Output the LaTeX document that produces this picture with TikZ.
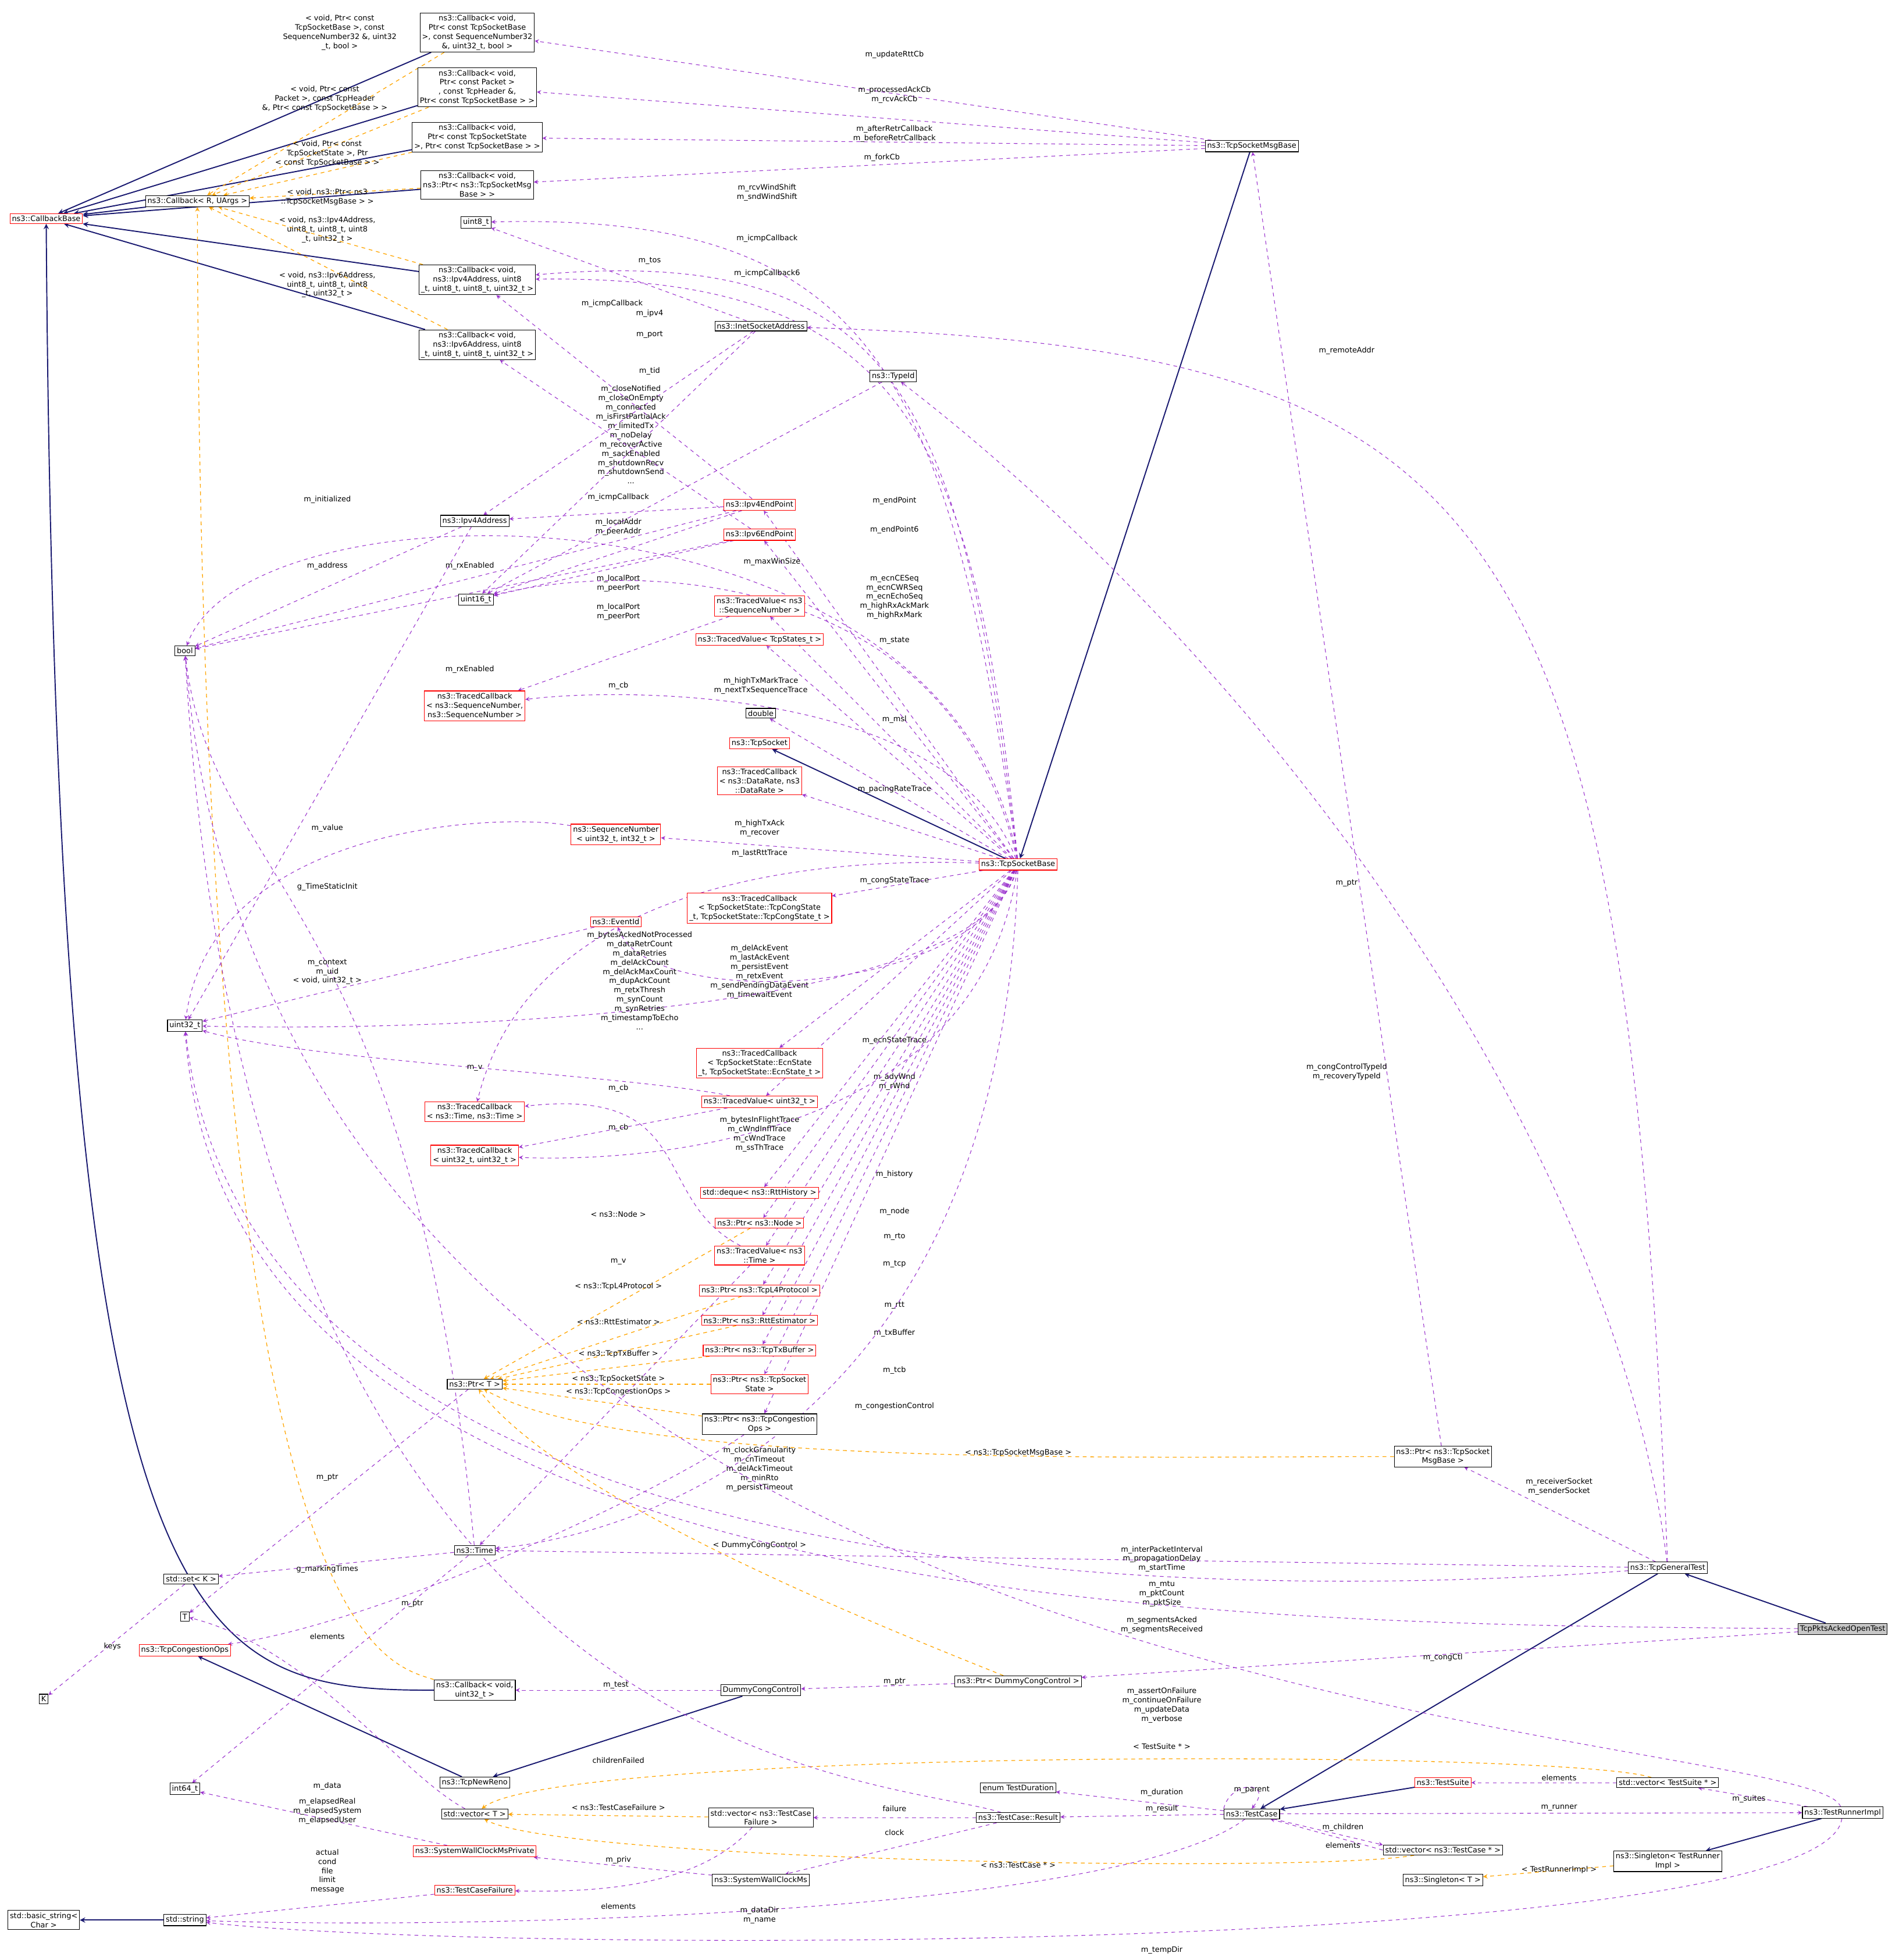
\documentclass[tikz,border=0pt]{standalone}
\usepackage{fontspec}
\setmainfont{DejaVu Sans}
\definecolor{mypurple}{HTML}{9A32CD}
\definecolor{myorange}{HTML}{FFA500}
\definecolor{mynavy}{HTML}{191970}
\usepackage{tikz}
\usetikzlibrary{arrows,positioning,backgrounds}

\begin{document}
\begin{tikzpicture}[
  x=1pt, y=-1pt,
  font=\fontsize{6}{7.4}\selectfont,
  cls/.style={draw, fill=white, inner sep=1.6pt, align=center, line width=0.5pt},
  redcls/.style={cls, draw=red},
  inh/.style={draw=mynavy, line width=0.9pt, -stealth},
  dep/.style={draw=mypurple, dashed, line width=0.5pt, -stealth},
  tmpl/.style={draw=myorange, dashed, line width=0.6pt, -stealth},
  lbl/.style={align=center, inner sep=0pt}
]
\useasboundingbox (0,0) rectangle (1520,1569);

% classes
\node[redcls] (cbb) at (37,175) {ns3::CallbackBase};
\node[cls] (cbru) at (158,161) {ns3::Callback< R, UArgs >};
\node[cls] (cbrtt) at (382,26) {ns3::Callback< void,\\ Ptr< const TcpSocketBase\\ >, const SequenceNumber32\\ \&, uint32\_t, bool >};
\node[cls] (cback) at (382,70) {ns3::Callback< void,\\ Ptr< const Packet >\\ , const TcpHeader \&,\\ Ptr< const TcpSocketBase > >};
\node[cls] (cbretr) at (382,110) {ns3::Callback< void,\\ Ptr< const TcpSocketState\\ >, Ptr< const TcpSocketBase > >};
\node[cls] (cbfork) at (382,148) {ns3::Callback< void,\\ ns3::Ptr< ns3::TcpSocketMsg\\ Base > >};
\node[cls] (u8) at (381,178) {uint8\_t};
\node[cls] (cbip4) at (382,224) {ns3::Callback< void,\\ ns3::Ipv4Address, uint8\\ \_t, uint8\_t, uint8\_t, uint32\_t >};
\node[cls] (cbip6) at (382,276) {ns3::Callback< void,\\ ns3::Ipv6Address, uint8\\ \_t, uint8\_t, uint8\_t, uint32\_t >};
\node[cls] (msgbase) at (1002,117) {ns3::TcpSocketMsgBase};
\node[cls] (inet) at (609,261) {ns3::InetSocketAddress};
\node[cls] (typeid) at (715,301) {ns3::TypeId};
\node[cls] (ip4addr) at (380,417) {ns3::Ipv4Address};
\node[cls] (bool) at (148,521) {bool};
\node[cls] (u16) at (381,480) {uint16\_t};
\node[redcls] (ep4) at (608,404) {ns3::Ipv4EndPoint};
\node[redcls] (ep6) at (608,428) {ns3::Ipv6EndPoint};
\node[redcls] (tvseq) at (608,485) {ns3::TracedValue< ns3\\ ::SequenceNumber >};
\node[redcls] (tvstate) at (608,512) {ns3::TracedValue< TcpStates\_t >};
\node[redcls] (tcseq) at (380,565) {ns3::TracedCallback\\ < ns3::SequenceNumber,\\ ns3::SequenceNumber >};
\node[cls] (dbl) at (609,571) {double};
\node[redcls] (tcpsock) at (608,595) {ns3::TcpSocket};
\node[redcls] (tcrate) at (608,625) {ns3::TracedCallback\\ < ns3::DataRate, ns3\\ ::DataRate >};
\node[redcls] (seqnum) at (493,668) {ns3::SequenceNumber\\ < uint32\_t, int32\_t >};
\node[redcls] (tsb) at (815,692) {ns3::TcpSocketBase};
\node[redcls] (tccong) at (608,727) {ns3::TracedCallback\\ < TcpSocketState::TcpCongState\\ \_t, TcpSocketState::TcpCongState\_t >};
\node[redcls] (evid) at (493,738) {ns3::EventId};
\node[cls] (u32) at (148,821) {uint32\_t};
\node[redcls] (tcecn) at (608,851) {ns3::TracedCallback\\ < TcpSocketState::EcnState\\ \_t, TcpSocketState::EcnState\_t >};
\node[redcls] (tvu32) at (608,882) {ns3::TracedValue< uint32\_t >};
\node[redcls] (tctime) at (380,890) {ns3::TracedCallback\\ < ns3::Time, ns3::Time >};
\node[redcls] (tcu32) at (380,925) {ns3::TracedCallback\\ < uint32\_t, uint32\_t >};
\node[redcls] (deque) at (608,955) {std::deque< ns3::RttHistory >};
\node[redcls] (pnode) at (608,979) {ns3::Ptr< ns3::Node >};
\node[redcls] (tvtime) at (608,1005) {ns3::TracedValue< ns3\\ ::Time >};
\node[redcls] (pl4) at (608,1033) {ns3::Ptr< ns3::TcpL4Protocol >};
\node[redcls] (prtt) at (608,1057) {ns3::Ptr< ns3::RttEstimator >};
\node[redcls] (ptx) at (608,1081) {ns3::Ptr< ns3::TcpTxBuffer >};
\node[redcls] (ptcb) at (608,1108) {ns3::Ptr< ns3::TcpSocket\\ State >};
\node[cls] (pcong) at (608,1140) {ns3::Ptr< ns3::TcpCongestion\\ Ops >};
\node[cls] (ptr) at (380,1108) {ns3::Ptr< T >};
\node[cls] (pmsg) at (1155,1166) {ns3::Ptr< ns3::TcpSocket\\ MsgBase >};
\node[cls] (time) at (380,1241) {ns3::Time};
\node[cls] (gentest) at (1335,1255) {ns3::TcpGeneralTest};
\node[cls] (setk) at (153,1264) {std::set< K >};
\node[cls] (tT) at (148,1294) {T};
\node[cls, fill=gray!45] (pktstest) at (1475,1304) {TcpPktsAckedOpenTest};
\node[redcls] (congops) at (148,1321) {ns3::TcpCongestionOps};
\node[cls] (kK) at (35,1360) {K};
\node[cls] (cbu32) at (380,1353) {ns3::Callback< void,\\ uint32\_t >};
\node[cls] (dummy) at (609,1353) {DummyCongControl};
\node[cls] (pdummy) at (815,1346) {ns3::Ptr< DummyCongControl >};
\node[cls] (newreno) at (380,1427) {ns3::TcpNewReno};
\node[cls] (tdur) at (815,1431) {enum TestDuration};
\node[redcls] (tsuite) at (1155,1427) {ns3::TestSuite};
\node[cls] (vsuite) at (1335,1427) {std::vector< TestSuite * >};
\node[cls] (i64) at (148,1432) {int64\_t};
\node[cls] (vecT) at (380,1452) {std::vector< T >};
\node[cls] (vfail) at (609,1455) {std::vector< ns3::TestCase\\ Failure >};
\node[cls] (result) at (815,1455) {ns3::TestCase::Result};
\node[cls] (testcase) at (1002,1452) {ns3::TestCase};
\node[cls] (runner) at (1475,1451) {ns3::TestRunnerImpl};
\node[cls] (vcase) at (1155,1481) {std::vector< ns3::TestCase * >};
\node[cls] (sglrun) at (1335,1490) {ns3::Singleton< TestRunner\\ Impl >};
\node[redcls] (swcpriv) at (380,1482) {ns3::SystemWallClockMsPrivate};
\node[cls] (sglT) at (1155,1505) {ns3::Singleton< T >};
\node[cls] (swc) at (609,1505) {ns3::SystemWallClockMs};
\node[redcls] (tcfail) at (380,1513) {ns3::TestCaseFailure};
\node[cls] (bstr) at (35,1537) {std::basic\_string<\\ Char >};
\node[cls] (str) at (148,1537) {std::string};

\begin{scope}[on background layer]
% inheritance
\foreach \n in {cbru,cbrtt,cback,cbretr,cbfork,cbip4,cbip6}
  \draw[inh] (\n) -- (cbb);
\draw[inh] (cbu32.west) .. controls (150,1353) and (45,1320) .. (cbb.south);
\draw[inh] (msgbase) -- (tsb);
\draw[inh] (tsb) -- (tcpsock);
\draw[inh] (pktstest) -- (gentest);
\draw[inh] (gentest) -- (testcase);
\draw[inh] (tsuite) -- (testcase);
\draw[inh] (newreno) -- (congops);
\draw[inh] (dummy) -- (newreno);
\draw[inh] (runner) -- (sglrun);
\draw[inh] (str) -- (bstr);

% templates
\draw[tmpl] (cbrtt) -- (cbru) node[lbl, at={(272,26)}] {< void, Ptr< const\\ TcpSocketBase >, const\\ SequenceNumber32 \&, uint32\\ \_t, bool >};
\draw[tmpl] (cback) -- (cbru) node[lbl, at={(260,79)}] {< void, Ptr< const\\ Packet >, const TcpHeader\\ \&, Ptr< const TcpSocketBase > >};
\draw[tmpl] (cbretr) -- (cbru) node[lbl, at={(262,123)}] {< void, Ptr< const\\ TcpSocketState >, Ptr\\ < const TcpSocketBase > >};
\draw[tmpl] (cbfork) -- (cbru) node[lbl, at={(262,158)}] {< void, ns3::Ptr< ns3\\ ::TcpSocketMsgBase > >};
\draw[tmpl] (cbip4) -- (cbru) node[lbl, at={(262,184)}] {< void, ns3::Ipv4Address,\\ uint8\_t, uint8\_t, uint8\\ \_t, uint32\_t >};
\draw[tmpl] (cbip6) -- (cbru) node[lbl, at={(262,228)}] {< void, ns3::Ipv6Address,\\ uint8\_t, uint8\_t, uint8\\ \_t, uint32\_t >};
\draw[tmpl] (cbu32.north west) .. controls (300,1330) and (160,1300) .. (cbru.south);
\draw[tmpl] (pnode) -- (ptr) node[lbl, at={(495,972)}] {< ns3::Node >};
\draw[tmpl] (pl4) -- (ptr) node[lbl, at={(495,1030)}] {< ns3::TcpL4Protocol >};
\draw[tmpl] (prtt) -- (ptr) node[lbl, at={(495,1058)}] {< ns3::RttEstimator >};
\draw[tmpl] (ptx) -- (ptr) node[lbl, at={(495,1084)}] {< ns3::TcpTxBuffer >};
\draw[tmpl] (ptcb) -- (ptr) node[lbl, at={(495,1104)}] {< ns3::TcpSocketState >};
\draw[tmpl] (pcong) -- (ptr) node[lbl, at={(495,1114)}] {< ns3::TcpCongestionOps >};
\draw[tmpl] (pmsg.west) .. controls (900,1166) and (500,1175) .. (ptr) node[lbl, at={(815,1163)}] {< ns3::TcpSocketMsgBase >};
\draw[tmpl] (pdummy) .. controls (700,1300) and (450,1200) .. (ptr) node[lbl, at={(608,1237)}] {< DummyCongControl >};
\draw[tmpl] (vsuite) .. controls (1250,1400) and (450,1400) .. (vecT) node[lbl, at={(930,1398)}] {< TestSuite * >};
\draw[tmpl] (vfail) -- (vecT) node[lbl, at={(495,1447)}] {< ns3::TestCaseFailure >};
\draw[tmpl] (vcase) .. controls (1050,1500) and (450,1490) .. (vecT) node[lbl, at={(815,1493)}] {< ns3::TestCase * >};
\draw[tmpl] (sglrun) -- (sglT) node[lbl, at={(1248,1497)}] {< TestRunnerImpl >};

% members
\draw[dep] (msgbase) -- (cbrtt) node[lbl, at={(716,44)}] {m\_updateRttCb};
\draw[dep] (msgbase) -- (cback) node[lbl, at={(716,76)}] {m\_processedAckCb\\ m\_rcvAckCb};
\draw[dep] (msgbase) -- (cbretr) node[lbl, at={(716,107)}] {m\_afterRetrCallback\\ m\_beforeRetrCallback};
\draw[dep] (msgbase) -- (cbfork) node[lbl, at={(706,126)}] {m\_forkCb};
\draw[dep] (tsb) .. controls (760,300) and (700,170) .. (u8) node[lbl, at={(614,154)}] {m\_rcvWindShift\\ m\_sndWindShift};
\draw[dep] (tsb) .. controls (770,320) and (720,195) .. (cbip4) node[lbl, at={(614,191)}] {m\_icmpCallback};
\draw[dep] (tsb) .. controls (780,340) and (720,220) .. (cbip4) node[lbl, at={(614,219)}] {m\_icmpCallback6};
\draw[dep] (inet) -- (u8) node[lbl, at={(520,209)}] {m\_tos};
\draw[dep] (ep4) -- (cbip4) node[lbl, at={(490,243)}] {m\_icmpCallback};
\draw[dep] (inet) -- (ip4addr) node[lbl, at={(520,251)}] {m\_ipv4};
\draw[dep] (inet) -- (u16) node[lbl, at={(520,268)}] {m\_port};
\draw[dep] (typeid) -- (u16) node[lbl, at={(520,297)}] {m\_tid};
\draw[dep] (tsb) .. controls (760,380) and (200,380) .. (bool) node[lbl, at={(505,348)}] {m\_closeNotified\\ m\_closeOnEmpty\\ m\_connected\\ m\_isFirstPartialAck\\ m\_limitedTx\\ m\_noDelay\\ m\_recoverActive\\ m\_sackEnabled\\ m\_shutdownRecv\\ m\_shutdownSend\\ ...};
\draw[dep] (ip4addr) -- (bool) node[lbl, at={(262,400)}] {m\_initialized};
\draw[dep] (ep6) -- (cbip6) node[lbl, at={(495,398)}] {m\_icmpCallback};
\draw[dep] (ip4addr) -- (u32) node[lbl, at={(262,453)}] {m\_address};
\draw[dep] (ep4) -- (ip4addr) node[lbl, at={(495,422)}] {m\_localAddr\\ m\_peerAddr};
\draw[dep] (ep4) -- (bool) node[lbl, at={(376,453)}] {m\_rxEnabled};
\draw[dep] (ep4) -- (u16) node[lbl, at={(495,467)}] {m\_localPort\\ m\_peerPort};
\draw[dep] (ep6) -- (u16) node[lbl, at={(495,490)}] {m\_localPort\\ m\_peerPort};
\draw[dep] (ep6) -- (bool) node[lbl, at={(376,536)}] {m\_rxEnabled};
\draw[dep] (tsb) -- (ep4) node[lbl, at={(716,401)}] {m\_endPoint};
\draw[dep] (tsb) -- (ep6) node[lbl, at={(716,424)}] {m\_endPoint6};
\draw[dep] (tsb) .. controls (760,450) and (500,450) .. (u16) node[lbl, at={(618,450)}] {m\_maxWinSize};
\draw[dep] (tsb) -- (tvseq) node[lbl, at={(716,478)}] {m\_ecnCESeq\\ m\_ecnCWRSeq\\ m\_ecnEchoSeq\\ m\_highRxAckMark\\ m\_highRxMark};
\draw[dep] (tsb) -- (tvstate) node[lbl, at={(716,513)}] {m\_state};
\draw[dep] (tvseq) -- (tcseq) node[lbl, at={(495,549)}] {m\_cb};
\draw[dep] (tsb) .. controls (760,550) and (500,550) .. (tcseq) node[lbl, at={(609,549)}] {m\_highTxMarkTrace\\ m\_nextTxSequenceTrace};
\draw[dep] (tsb) -- (dbl) node[lbl, at={(716,576)}] {m\_msl};
\draw[dep] (tsb) -- (tcrate) node[lbl, at={(716,632)}] {m\_pacingRateTrace};
\draw[dep] (tsb) -- (seqnum) node[lbl, at={(608,663)}] {m\_highTxAck\\ m\_recover};
\draw[dep] (seqnum) .. controls (400,650) and (170,660) .. (u32) node[lbl, at={(262,663)}] {m\_value};
\draw[dep] (tsb) .. controls (700,688) and (430,688) .. (tctime) node[lbl, at={(608,683)}] {m\_lastRttTrace};
\draw[dep] (time) .. controls (330,720) and (170,710) .. (bool) node[lbl, at={(262,710)}] {g\_TimeStaticInit};
\draw[dep] (tsb) -- (tccong) node[lbl, at={(716,705)}] {m\_congStateTrace};
\draw[dep] (tsb) .. controls (780,800) and (520,810) .. (evid) node[lbl, at={(608,778)}] {m\_delAckEvent\\ m\_lastAckEvent\\ m\_persistEvent\\ m\_retxEvent\\ m\_sendPendingDataEvent\\ m\_timewaitEvent};
\draw[dep] (evid) -- (u32) node[lbl, at={(262,778)}] {m\_context\\ m\_uid\\ < void, uint32\_t >};
\draw[dep] (tsb) .. controls (780,820) and (300,825) .. (u32) node[lbl, at={(512,785)}] {m\_bytesAckedNotProcessed\\ m\_dataRetrCount\\ m\_dataRetries\\ m\_delAckCount\\ m\_delAckMaxCount\\ m\_dupAckCount\\ m\_retxThresh\\ m\_synCount\\ m\_synRetries\\ m\_timestampToEcho\\ ...};
\draw[dep] (tsb) -- (tcecn) node[lbl, at={(716,833)}] {m\_ecnStateTrace};
\draw[dep] (tvu32) .. controls (500,860) and (250,850) .. (u32) node[lbl, at={(380,855)}] {m\_v};
\draw[dep] (tsb) -- (tvu32) node[lbl, at={(716,866)}] {m\_advWnd\\ m\_rWnd};
\draw[dep] (tvtime) .. controls (520,960) and (560,870) .. (tctime) node[lbl, at={(495,871)}] {m\_cb};
\draw[dep] (tvu32) -- (tcu32) node[lbl, at={(495,903)}] {m\_cb};
\draw[dep] (tsb) .. controls (780,920) and (500,930) .. (tcu32) node[lbl, at={(608,908)}] {m\_bytesInFlightTrace\\ m\_cWndInflTrace\\ m\_cWndTrace\\ m\_ssThTrace};
\draw[dep] (tsb) -- (deque) node[lbl, at={(716,940)}] {m\_history};
\draw[dep] (tsb) -- (pnode) node[lbl, at={(716,970)}] {m\_node};
\draw[dep] (tvtime) -- (time) node[lbl, at={(495,1010)}] {m\_v};
\draw[dep] (tsb) -- (tvtime) node[lbl, at={(716,990)}] {m\_rto};
\draw[dep] (tsb) -- (pl4) node[lbl, at={(716,1012)}] {m\_tcp};
\draw[dep] (tsb) -- (prtt) node[lbl, at={(716,1045)}] {m\_rtt};
\draw[dep] (tsb) -- (ptx) node[lbl, at={(716,1067)}] {m\_txBuffer};
\draw[dep] (tsb) -- (ptcb) node[lbl, at={(716,1097)}] {m\_tcb};
\draw[dep] (tsb) -- (pcong) node[lbl, at={(716,1126)}] {m\_congestionControl};
\draw[dep] (tsb) .. controls (800,1150) and (500,1230) .. (time) node[lbl, at={(608,1176)}] {m\_clockGranularity\\ m\_cnTimeout\\ m\_delAckTimeout\\ m\_minRto\\ m\_persistTimeout};
\draw[dep] (ptr) -- (tT) node[lbl, at={(262,1183)}] {m\_ptr};
\draw[dep] (pcong) .. controls (520,1200) and (300,1300) .. (congops) node[lbl, at={(330,1284)}] {m\_ptr};
\draw[dep] (pmsg) -- (msgbase) node[lbl, at={(1078,707)}] {m\_ptr};
\draw[dep] (gentest) .. controls (1300,400) and (1200,280) .. (inet) node[lbl, at={(1078,281)}] {m\_remoteAddr};
\draw[dep] (gentest) .. controls (1290,900) and (1000,520) .. (typeid) node[lbl, at={(1078,858)}] {m\_congControlTypeId\\ m\_recoveryTypeId};
\draw[dep] (gentest) -- (pmsg) node[lbl, at={(1248,1190)}] {m\_receiverSocket\\ m\_senderSocket};
\draw[dep] (gentest) -- (time) node[lbl, at={(930,1248)}] {m\_interPacketInterval\\ m\_propagationDelay\\ m\_startTime};
\draw[dep] (gentest) .. controls (1000,1280) and (200,1290) .. (u32) node[lbl, at={(930,1276)}] {m\_mtu\\ m\_pktCount\\ m\_pktSize};
\draw[dep] (time) -- (setk) node[lbl, at={(262,1256)}] {g\_markingTimes};
\draw[dep] (setk) -- (kK) node[lbl, at={(90,1318)}] {keys};
\draw[dep] (pktstest) .. controls (1000,1300) and (180,1300) .. (u32) node[lbl, at={(930,1301)}] {m\_segmentsAcked\\ m\_segmentsReceived};
\draw[dep] (vecT) .. controls (320,1420) and (250,1320) .. (tT) node[lbl, at={(262,1310)}] {elements};
\draw[dep] (pktstest) -- (pdummy) node[lbl, at={(1155,1327)}] {m\_congCtl};
\draw[dep] (pdummy) -- (dummy) node[lbl, at={(716,1346)}] {m\_ptr};
\draw[dep] (dummy) -- (cbu32) node[lbl, at={(493,1349)}] {m\_test};
\draw[dep] (runner) .. controls (1450,1380) and (220,1390) .. (bool) node[lbl, at={(930,1365)}] {m\_assertOnFailure\\ m\_continueOnFailure\\ m\_updateData\\ m\_verbose};
\draw[dep] (result) .. controls (700,1420) and (200,1420) .. (bool) node[lbl, at={(495,1409)}] {childrenFailed};
\draw[dep] (vsuite) -- (tsuite) node[lbl, at={(1248,1423)}] {elements};
\draw[dep] (testcase) -- (tdur) node[lbl, at={(930,1435)}] {m\_duration};
\draw[dep] (testcase.north west) .. controls (985,1425) and (1020,1425) .. (testcase.north) node[lbl, at={(1002,1433)}] {m\_parent};
\draw[dep] (runner) -- (vsuite) node[lbl, at={(1400,1440)}] {m\_suites};
\draw[dep] (time) -- (i64) node[lbl, at={(262,1430)}] {m\_data};
\draw[dep] (swcpriv) -- (i64) node[lbl, at={(262,1450)}] {m\_elapsedReal\\ m\_elapsedSystem\\ m\_elapsedUser};
\draw[dep] (result) -- (vfail) node[lbl, at={(716,1448)}] {failure};
\draw[dep] (testcase) -- (result) node[lbl, at={(930,1448)}] {m\_result};
\draw[dep] (testcase) -- (runner) node[lbl, at={(1248,1447)}] {m\_runner};
\draw[dep] (result) -- (swc) node[lbl, at={(716,1467)}] {clock};
\draw[dep] (testcase) -- (vcase.north west) node[lbl, at={(1075,1463)}] {m\_children};
\draw[dep] (vcase.west) -- (testcase) node[lbl, at={(1075,1477)}] {elements};
\draw[dep] (swc) -- (swcpriv) node[lbl, at={(495,1489)}] {m\_priv};
\draw[dep] (tcfail) -- (str) node[lbl, at={(262,1498)}] {actual\\ cond\\ file\\ limit\\ message};
\draw[dep] (vfail) .. controls (560,1510) and (480,1515) .. (tcfail) node[lbl, at={(495,1526)}] {elements};
\draw[dep] (testcase) .. controls (900,1530) and (400,1545) .. (str) node[lbl, at={(608,1533)}] {m\_dataDir\\ m\_name};
\draw[dep] (runner) .. controls (1460,1565) and (400,1565) .. (str) node[lbl, at={(930,1561)}] {m\_tempDir};
\end{scope}
\end{tikzpicture}
\end{document}
